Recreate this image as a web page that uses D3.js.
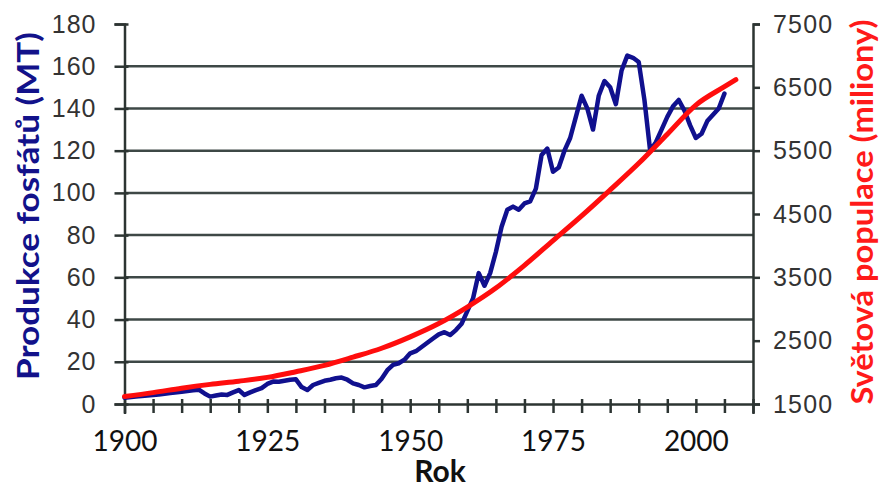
<!DOCTYPE html>
<html><head><meta charset="utf-8">
<script src="https://cdn.jsdelivr.net/npm/d3@7"></script>
<style>body{margin:0;background:#fff}svg{display:block}</style>
</head><body>
<svg id="c" width="880" height="490"></svg>
<script>
// Phosphate production (MT)
const prodYears = [1900,1902,1904,1906,1908,1910,1912,1913,1914,1915,1916,1917,1918,1919,1920,1921,1922,1923,1924,1925,1926,1927,1928,1929,1930,1931,1932,1933,1934,1935,1936,1937,1938,1939,1940,1941,1942,1943,1944,1945,1946,1947,1948,1949,1950,1951,1952,1953,1954,1955,1956,1957,1958,1959,1960,1961,1962,1963,1964,1965,1966,1967,1968,1969,1970,1971,1972,1973,1974,1975,1976,1977,1978,1979,1980,1981,1982,1983,1984,1985,1986,1987,1988,1989,1990,1991,1992,1993,1994,1995,1996,1997,1998,1999,2000,2001,2002,2003,2004,2005];
const prodValues = [3,3.5,4,4.5,5.2,5.8,6.5,6.8,5,3.5,4,4.5,4.3,5.5,6.6,4.3,5.5,6.6,7.5,9.5,10.6,10.5,11,11.5,11.7,8,6.6,9,10,11,11.5,12.2,12.5,11.5,9.8,9,7.9,8.5,9,12,16,18.5,19.3,21,24,25,27,29,31,33,34,32.7,35,38,44,50,62,56,62,72,84,92,93.5,92,95,96,102,118,121,110,112,120,126,136,146,140,130,146,153,150,142,158,165,164,162,144,120,124,130,136,141,144,139,132,126,128,134,137,140,147];
// World population (millions)
const popYears = [1900,1905,1910,1915,1920,1925,1930,1935,1940,1945,1950,1955,1960,1965,1970,1975,1980,1985,1990,1995,2000,2005,2007];
const popValues = [1620,1680,1750,1810,1860,1920,2010,2110,2240,2380,2560,2770,3030,3330,3690,4080,4470,4880,5300,5760,6220,6510,6620];
const leftTicks = [0,20,40,60,80,100,120,140,160,180];
const rightTicks = [1500,2500,3500,4500,5500,6500,7500];
const xTicks = [1900,1905,1910,1915,1920,1925,1930,1935,1940,1945,1950,1955,1960,1965,1970,1975,1980,1985,1990,1995,2000,2005,2010];
const xLabels = [1900,1925,1950,1975,2000];

const svg = d3.select("#c");
const L = 124.5, R = 753, T = 24, B = 404;
const x = d3.scaleLinear().domain([1900,2010]).range([L,R]);
const yL = d3.scaleLinear().domain([0,180]).range([B,T]);
const yR = d3.scaleLinear().domain([1500,7500]).range([B,T]);

const gridC = "#3e4846", axisC = "#2c3432", labC = "#333";

// gridlines
svg.append("g").selectAll("line").data(leftTicks.filter(d=>d>0 && d<180)).join("line")
  .attr("x1",L).attr("x2",R).attr("y1",d=>yL(d)).attr("y2",d=>yL(d))
  .attr("stroke",gridC).attr("stroke-width",2.5);

// left axis
const gl = svg.append("g").attr("transform",`translate(${L},0)`)
  .call(d3.axisLeft(yL).tickValues(leftTicks).tickSize(10).tickPadding(17));
gl.select(".domain").attr("stroke",axisC).attr("stroke-width",2.5);
gl.selectAll(".tick line").attr("x1",4).attr("x2",-10).attr("stroke",axisC).attr("stroke-width",2.5);
gl.selectAll(".tick text").attr("font-family","Liberation Sans, Arial, sans-serif").attr("font-size",25)
  .attr("fill",labC).attr("letter-spacing",1).attr("x",-28);

// right axis
const gr = svg.append("g").attr("transform",`translate(${R},0)`)
  .call(d3.axisRight(yR).tickValues(rightTicks).tickSize(7).tickPadding(13).tickFormat(d3.format("d")));
gr.select(".domain").attr("stroke",axisC).attr("stroke-width",2.5);
gr.selectAll(".tick line").attr("stroke",axisC).attr("stroke-width",2.5);
gr.selectAll(".tick text").attr("font-family","Liberation Sans, Arial, sans-serif").attr("font-size",25).attr("fill",labC)
  .attr("letter-spacing",1.2).attr("x",20);

// bottom axis
const gb = svg.append("g").attr("transform",`translate(0,${B})`)
  .call(d3.axisBottom(x).tickValues(xTicks).tickSize(10).tickFormat(d=>xLabels.includes(d)?d:""));
gb.select(".domain").attr("stroke",axisC).attr("stroke-width",2.5);
gb.selectAll(".tick line").attr("y1",-5).attr("y2",9).attr("stroke",axisC).attr("stroke-width",2.5);
gb.selectAll(".tick text").attr("font-family","Lato, sans-serif").attr("font-size",28).attr("fill","#111").attr("y",27);

// lines
const lineP = d3.line().x((d,i)=>x(prodYears[i])).y(d=>yL(d)).curve(d3.curveLinear);
svg.append("path").attr("d",lineP(prodValues)).attr("fill","none").attr("stroke","#10108e")
  .attr("stroke-width",4.5).attr("stroke-linejoin","round").attr("stroke-linecap","round");
const lineR = d3.line().x((d,i)=>x(popYears[i])).y(d=>yR(d)).curve(d3.curveMonotoneX);
svg.append("path").attr("d",lineR(popValues)).attr("fill","none").attr("stroke","#ff0d0d")
  .attr("stroke-width",5).attr("stroke-linejoin","round").attr("stroke-linecap","round");

// titles
svg.append("text").text("Rok").attr("x",440).attr("y",482).attr("text-anchor","middle")
  .attr("font-family","Lato, sans-serif").attr("font-weight","bold").attr("font-size",30).attr("fill","#111");
svg.append("text").text("Produkce fosfátů (MT)").attr("transform","translate(39,206) rotate(-90)").attr("text-anchor","middle")
  .attr("textLength",348).attr("lengthAdjust","spacingAndGlyphs")
  .attr("font-family","Lato, sans-serif").attr("font-weight","bold").attr("font-size",30).attr("fill","#12128a");
svg.append("text").text("Světová populace (miliony)").attr("transform","translate(873,212) rotate(-90)").attr("text-anchor","middle")
  .attr("textLength",385).attr("lengthAdjust","spacingAndGlyphs")
  .attr("font-family","Lato, sans-serif").attr("font-weight","bold").attr("font-size",30).attr("fill","#ff1a1a");
</script>
</body></html>
